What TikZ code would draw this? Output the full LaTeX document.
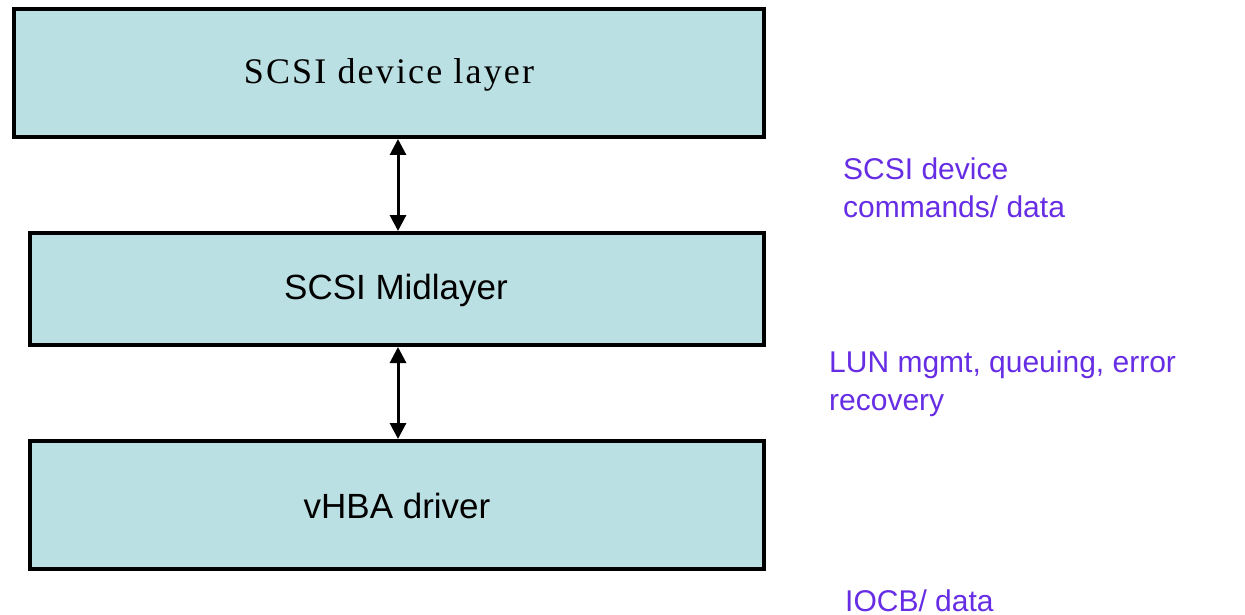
\documentclass[tikz,border=0pt]{standalone}
\usepackage{fontspec}
\setmainfont{Liberation Sans}
\newfontfamily\boxserif{Liberation Serif}[LetterSpace=6]
\usetikzlibrary{arrows.meta}
\definecolor{boxfill}{RGB}{187,224,227}
\definecolor{labpurple}{RGB}{102,45,228}
\begin{document}
\begin{tikzpicture}[x=1pt,y=-1pt,
  layerbox/.style={draw=black,fill=boxfill,line width=4pt,rectangle,inner sep=0pt},
  boxtext/.style={font=\fontsize{35}{40}\selectfont,inner sep=0pt},
  sidelabel/.style={font=\fontsize{30}{38}\selectfont,text=labpurple,align=left,anchor=base west,inner sep=0pt},
  link/.style={line width=3pt,{Triangle[length=16pt,width=16pt]}-{Triangle[length=16pt,width=16pt]}}]
\useasboundingbox (0,0) rectangle (1245,615);
\node[layerbox,minimum width=750pt,minimum height=128pt] (dev) at (389,73) {};
\node[layerbox,minimum width=734pt,minimum height=112pt] (mid) at (397,289) {};
\node[layerbox,minimum width=734pt,minimum height=128pt] (hba) at (397,505) {};
\node[font=\boxserif\fontsize{36}{40}\selectfont,inner sep=0pt] (devt) at (389,75) {SCSI device layer};
\node[boxtext] (midt) at (396,290) {SCSI Midlayer};
\node[boxtext] (hbat) at (397,506) {vHBA driver};
\coordinate (a1) at (398,0);
\draw[link] (dev.south -| a1) -- (mid.north -| a1);
\draw[link] (mid.south -| a1) -- (hba.north -| a1);
\node[sidelabel] (l1) at (843,217) {SCSI device\\commands/ data};
\node[sidelabel] (l2) at (829,410) {LUN mgmt, queuing, error\\recovery};
\node[sidelabel] (l3) at (845,611) {IOCB/ data};
\end{tikzpicture}
\end{document}
